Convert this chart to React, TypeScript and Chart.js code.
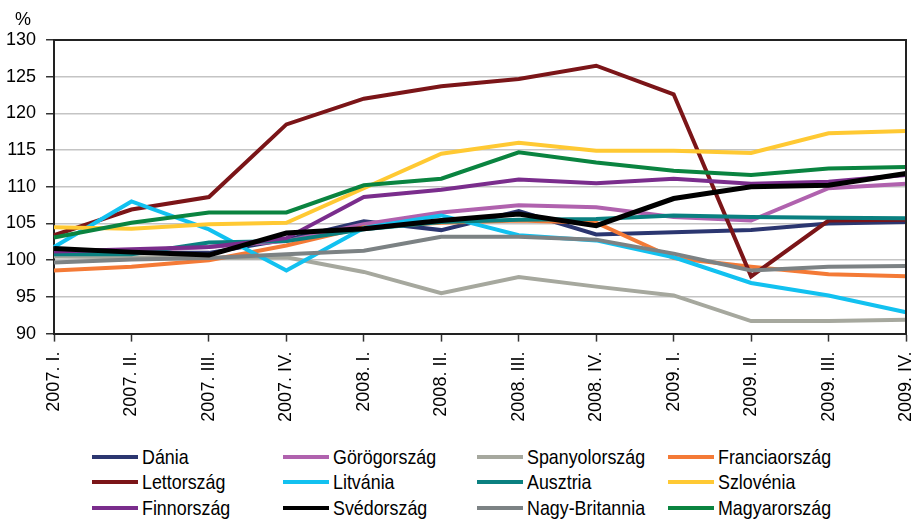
import React, { useEffect, useRef } from "react";
import { Chart, registerables } from "chart.js";

Chart.register(...registerables);

const categories = [
  "2007. I.", "2007. II.", "2007. III.", "2007. IV.",
  "2008. I.", "2008. II.", "2008. III.", "2008. IV.",
  "2009. I.", "2009. II.", "2009. III.", "2009. IV.",
];

const yTicks = [90, 95, 100, 105, 110, 115, 120, 125, 130];

const dania = [101.3, 101.0, 101.0, 102.8, 105.3, 104.1, 106.7, 103.5, 103.8, 104.1, 105.0, 105.2];
const gorogorszag = [101.3, 101.3, 101.8, 102.6, 104.9, 106.5, 107.5, 107.2, 105.9, 105.4, 109.8, 110.4];
const spanyolorszag = [100.5, 100.4, 100.3, 100.4, 98.4, 95.5, 97.7, 96.4, 95.2, 91.7, 91.7, 91.9];
const franciaorszag = [98.6, 99.1, 100.0, 102.0, 104.5, 105.1, 105.4, 105.1, 100.3, 99.1, 98.1, 97.8];
const lettorszag = [103.4, 106.9, 108.6, 118.5, 122.0, 123.7, 124.7, 126.5, 122.6, 97.8, 105.4, 105.5];
const litvania = [101.8, 108.0, 104.2, 98.6, 104.4, 106.1, 103.4, 102.7, 100.4, 96.9, 95.2, 92.9];
const ausztria = [100.8, 100.8, 102.4, 102.6, 104.2, 105.2, 105.5, 105.6, 106.1, 105.9, 105.8, 105.7];
const szlovenia = [104.5, 104.3, 104.9, 105.1, 109.8, 114.5, 116.0, 114.9, 114.9, 114.6, 117.3, 117.6];
const finnorszag = [101.2, 101.5, 101.8, 103.0, 108.6, 109.6, 111.0, 110.5, 111.1, 110.4, 110.7, 111.6];
const svedorszag = [101.6, 101.1, 100.7, 103.7, 104.3, 105.4, 106.3, 104.7, 108.4, 110.0, 110.2, 111.8];
const nagyBritannia = [99.7, 100.1, 100.3, 100.8, 101.3, 103.2, 103.2, 102.8, 100.9, 98.6, 99.1, 99.2];
const magyarorszag = [103.1, 105.1, 106.5, 106.5, 110.2, 111.1, 114.7, 113.3, 112.2, 111.6, 112.5, 112.7];

const seriesNames = [
  "Dánia", "Görögország", "Spanyolország", "Franciaország",
  "Lettország", "Litvánia", "Ausztria", "Szlovénia",
  "Finnország", "Svédország", "Nagy-Britannia", "Magyarország",
];
const seriesData = [
  dania, gorogorszag, spanyolorszag, franciaorszag,
  lettorszag, litvania, ausztria, szlovenia,
  finnorszag, svedorszag, nagyBritannia, magyarorszag,
];
const seriesColors = [
  "#2B3670", "#B062AE", "#A6A89E", "#F47A36",
  "#7B1518", "#12C1F0", "#0A8080", "#FFC933",
  "#7A2D8C", "#000000", "#7C8284", "#0A8440",
];

const FONT = '"Liberation Sans", Arial, sans-serif';

const frameLines = {
  id: "frameLines",
  afterDatasetsDraw(chart: any) {
    const { ctx, chartArea } = chart;
    ctx.save();
    ctx.strokeStyle = "#222";
    ctx.lineWidth = 2;
    ctx.beginPath();
    ctx.moveTo(chartArea.left, chartArea.top);
    ctx.lineTo(chartArea.right, chartArea.top);
    ctx.lineTo(chartArea.right, chartArea.bottom);
    ctx.stroke();
    ctx.restore();
  },
};

export default function App() {
  const ref = useRef<HTMLCanvasElement | null>(null);

  useEffect(() => {
    if (!ref.current) return;
    const n = seriesNames.length;
    const chart = new Chart(ref.current, {
      type: "line",
      data: {
        labels: categories,
        datasets: seriesNames.map((name, i) => ({
          label: name,
          data: seriesData[i],
          borderColor: seriesColors[i],
          backgroundColor: seriesColors[i],
          borderWidth: name === "Svédország" ? 5 : 4,
          pointRadius: 0,
          tension: 0,
          fill: false,
          order: name === "Svédország" ? -1 : n - i,
        })),
      },
      options: {
        animation: false,
        responsive: false,
        layout: { padding: { left: -4, right: 0, top: 40, bottom: 8 } },
        plugins: {
          legend: { display: false },
          tooltip: { enabled: false },
        },
        scales: {
          x: {
            offset: false,
            afterFit: (scale: any) => {
              scale.paddingRight = 6;
            },
            grid: {
              drawOnChartArea: false,
              drawTicks: true,
              tickLength: 8,
              tickColor: "#333",
              tickWidth: 1.5,
            },
            border: { display: true, color: "#222", width: 2 },
            ticks: {
              minRotation: 90,
              maxRotation: 90,
              autoSkip: false,
              padding: 10,
              color: "#000",
              font: { family: FONT, size: 18 },
            },
          },
          y: {
            min: 90,
            max: 130,
            afterBuildTicks: (scale: any) => {
              scale.ticks = yTicks.map((v) => ({ value: v }));
            },
            grid: {
              color: "#C4C4C4",
              lineWidth: 1.5,
              drawTicks: true,
              tickLength: 8,
              tickColor: "#333",
              tickWidth: 1.5,
            },
            border: { display: true, color: "#222", width: 2 },
            ticks: {
              padding: 10,
              color: "#000",
              font: { family: FONT, size: 18 },
            },
          },
        },
      },
      plugins: [frameLines],
    });
    return () => chart.destroy();
  }, []);

  const colX = [92, 283, 477, 668];
  const rowY = [457, 482, 508];

  return (
    <div style={{ position: "absolute", left: 0, top: 0, width: 912, height: 521, overflow: "hidden", background: "#fff" }}>
      <canvas ref={ref} width={912} height={440} style={{ position: "absolute", left: 0, top: 0 }} />
      <div
        style={{
          position: "absolute",
          left: 15,
          top: 9,
          fontFamily: FONT,
          fontSize: 18,
          color: "#000",
        }}
      >
        %
      </div>
      {seriesNames.map((name, i) => {
        const col = i % 4;
        const row = Math.floor(i / 4);
        return (
          <div
            key={name}
            style={{
              position: "absolute",
              left: colX[col],
              top: rowY[row] - 13,
              height: 26,
              display: "flex",
              alignItems: "center",
              fontFamily: FONT,
              fontSize: 21,
              color: "#000",
              whiteSpace: "nowrap",
            }}
          >
            <span style={{ display: "inline-block", width: 46, height: 4, background: seriesColors[i], marginRight: 4 }} />
            <span style={{ display: "inline-block", transform: "scaleX(0.85)", transformOrigin: "left center" }}>{name}</span>
          </div>
        );
      })}
    </div>
  );
}
